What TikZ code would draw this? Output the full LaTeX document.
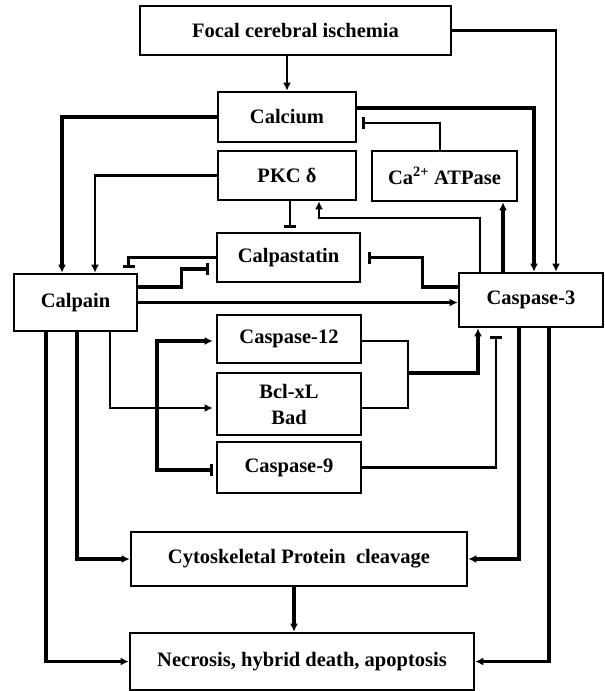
\documentclass[tikz,border=0pt]{standalone}
\usepackage{fontspec}
\setmainfont{Liberation Serif}
\usetikzlibrary{arrows.meta,calc}
\tikzset{
    box/.style={draw,line width=2.6pt,inner sep=0pt,align=center,
        font=\bfseries\fontsize{20.5}{26}\selectfont},
    act/.style={line width=2.2pt,-{Latex[length=8pt,width=8pt]}},
    bigact/.style={act,line width=3.5pt},
    inh/.style={line width=2.2pt,-{Bar[width=12pt,line width=2.6pt]}},
    biginh/.style={inh,line width=3.5pt}
}
\begin{document}
\begin{tikzpicture}[x=1pt,y=-1pt]
    \useasboundingbox (0,0) rectangle (605,691);
    % boxes
    \node[box,minimum width=311pt,minimum height=49pt] (focal) at (295.5,30.5) {Focal cerebral ischemia};
    \node[box,minimum width=138pt,minimum height=50pt] (calcium) at (287,117) {Calcium};
    \node[box,minimum width=138pt,minimum height=49pt] (pkc) at (287,175.5) {PKC δ};
    \node[box,minimum width=145pt,minimum height=50pt] (atpase) at (444.5,176) {Ca\textsuperscript{2+} ATPase};
    \node[box,minimum width=143pt,minimum height=49pt] (calpastatin) at (288.5,257.5) {Calpastatin};
    \node[box,minimum width=123pt,minimum height=57pt] (calpain) at (75.5,302.5) {Calpain};
    \node[box,minimum width=144pt,minimum height=54pt] (casp3) at (531,300) {Caspase-3};
    \node[box,minimum width=144pt,minimum height=48pt] (casp12) at (289,339) {Caspase-12};
    \node[box,minimum width=144pt,minimum height=62pt] (bcl) at (289,404) {Bcl-xL\\Bad};
    \node[box,minimum width=144pt,minimum height=51pt] (casp9) at (289,467.5) {Caspase-9};
    \node[box,minimum width=336pt,minimum height=54pt] (cyto) at (299,559) {Cytoskeletal Protein\ \ cleavage};
    \node[box,minimum width=344pt,minimum height=57pt] (necrosis) at (302,661.5) {Necrosis, hybrid death, apoptosis};
    \coordinate (branch) at (157,408);
    \coordinate (merge) at (408,373);
    % top part
    \draw[act] (focal.south -| calcium.north) -- (calcium.north);
    \draw[act] (focal.east) -| ($(casp3.north)+(25,0)$);
    \draw[bigact] ($(calcium.east)+(0,-9)$) -| ($(casp3.north)+(3,0)$);
    \draw[bigact] (calcium.west) -| ($(calpain.north)+(-13.5,0)$);
    \draw[inh,shorten >=5pt] ($(atpase.north)+(-4.5,0)$) |- ($(calcium.east)+(0,6)$);
    \draw[act] (pkc.west) -| ($(calpain.north)+(19.5,0)$);
    \draw[inh,shorten >=4pt] ($(pkc.south)+(3,0)$) -- ($(calpastatin.north)+(1.5,0)$);
    \draw[act] ($(casp3.north)+(-51,0)$) |- ($(pkc.south)+(32,17)$) -- ($(pkc.south)+(32,0)$);
    \draw[bigact] ($(casp3.north)+(-28,0)$) -- ($(atpase.south)+(58.5,0)$);
    % calpain, calpastatin
    \draw[inh,shorten >=5pt] (calpastatin.west) -| ($(calpain.north)+(53,0)$);
    \draw[biginh,shorten >=7pt] ($(calpain.east)+(0,-15.5)$) -- ++(43,0) |- ($(calpastatin.west)+(0,11.5)$);
    \draw[biginh,shorten >=7pt] ($(casp3.west)+(0,-13)$) -- ++(-35,0) |- (calpastatin.east);
    \draw[bigact] (calpain.east) -- (calpain.east -| casp3.west);
    % middle part
    \draw[act,shorten >=3pt] ($(calpain.south)+(34.5,0)$) |- ($(bcl.west)+(0,4)$);
    \draw[bigact,shorten >=3pt] (branch) |- ($(casp12.west)+(0,2)$);
    \draw[biginh,shorten >=3pt] (branch) |- ($(casp9.west)+(0,2.5)$);
    \draw[line width=2.8pt] ($(casp12.east)+(0,2)$) -| (merge) |- ($(bcl.east)+(0,4)$);
    \draw[bigact] (merge) -| ($(casp3.south)+(-53,0)$);
    \draw[inh,shorten >=8pt] (casp9.east) -| ($(casp3.south)+(-35,0)$);
    % bottom part
    \draw[bigact] ($(calpain.south)+(1.5,0)$) |- (cyto.west);
    \draw[bigact] ($(calpain.south)+(-29.5,0)$) |- (necrosis.west);
    \draw[bigact] ($(casp3.south)+(-12,0)$) |- (cyto.east);
    \draw[bigact] ($(casp3.south)+(18,0)$) |- (necrosis.east);
    \draw[bigact] ($(cyto.south)+(-5,0)$) -- ($(necrosis.north)+(-8,0)$);
\end{tikzpicture}
\end{document}
